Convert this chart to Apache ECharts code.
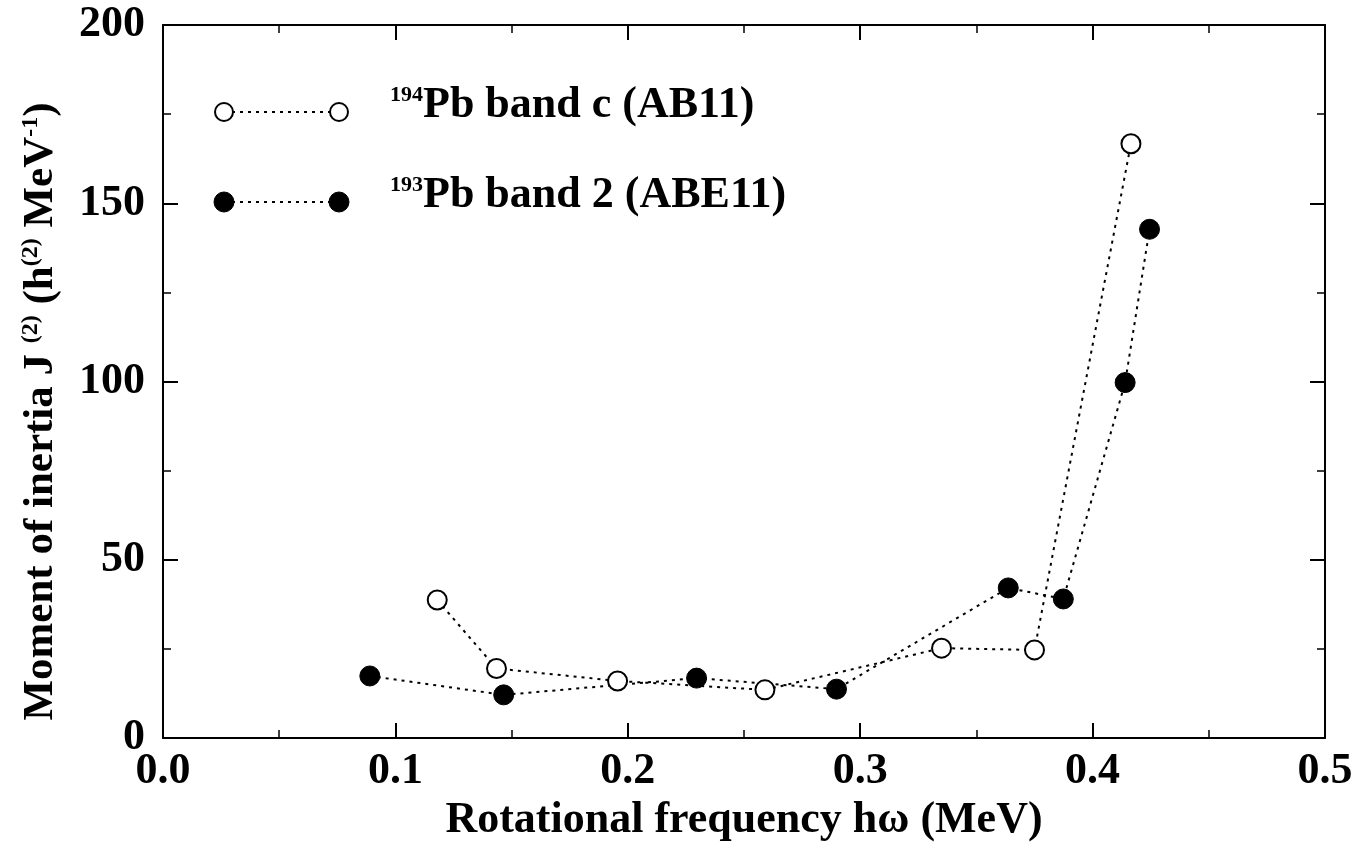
<!DOCTYPE html>
<html>
<head>
<meta charset="utf-8">
<script src="https://cdn.jsdelivr.net/npm/echarts@6/dist/echarts.min.js"></script>
<style>
  html, body { margin: 0; padding: 0; background: #fff; }
  #chart { width: 1363px; height: 851px; }
</style>
</head>
<body>
<div id="chart"></div>
<script>
// 194Pb band c (AB11), open circles
var bandCFreq = [0.118, 0.1435, 0.1956, 0.259, 0.335, 0.375, 0.4165];
var bandCJ2 = [38.7, 19.5, 16.0, 13.5, 25.2, 24.7, 166.7];
// 193Pb band 2 (ABE11), filled circles
var band2Freq = [0.089, 0.1466, 0.2296, 0.2898, 0.3637, 0.3874, 0.414, 0.4245];
var band2J2 = [17.4, 12.1, 16.8, 13.7, 42.1, 39.0, 99.7, 142.7];

var xTicks = [0.0, 0.1, 0.2, 0.3, 0.4, 0.5];
var yTicks = [0, 50, 100, 150, 200];

function pairs(xs, ys) {
    var out = [];
    for (var i = 0; i < xs.length; i++) {
        out.push([xs[i], ys[i]]);
    }
    return out;
}

var font = 'Liberation Serif';
var sup = { fontFamily: font, fontWeight: 'bold', fontSize: 24, padding: [0, 0, 20, 0], color: '#000', fill: '#000' };
var supLeg = { fontFamily: font, fontWeight: 'bold', fontSize: 22, padding: [0, 0, 22, 0], color: '#000', fill: '#000' };
var big = { fontFamily: font, fontWeight: 'bold', fontSize: 44, color: '#000', fill: '#000' };

var chart = echarts.init(document.getElementById('chart'));

// every axis: black frame line, inward ticks, minor tick halfway
function axisBase(show) {
    return {
        type: 'value',
        axisLine: { show: true, onZero: false, lineStyle: { color: '#000', width: 2 } },
        axisTick: { show: true, inside: true, length: 15, lineStyle: { color: '#000', width: 2 } },
        minorTick: { show: true, splitNumber: 2, length: 8, lineStyle: { color: '#000', width: 1.5 } },
        splitLine: { show: false },
        axisLabel: { show: show }
    };
}

var xMain = axisBase(true);
xMain.min = xTicks[0];
xMain.max = xTicks[xTicks.length - 1];
xMain.interval = 0.1;
xMain.position = 'bottom';
xMain.axisLabel = {
    show: true, margin: 12, color: '#000', fontFamily: font, fontWeight: 'bold', fontSize: 44,
    formatter: function (v) { return v.toFixed(1); }
};
xMain.name = 'Rotational frequency hω (MeV)';
xMain.nameLocation = 'middle';
xMain.nameGap = 53;
xMain.nameTextStyle = { color: '#000', fontFamily: font, fontWeight: 'bold', fontSize: 44 };

var xTop = axisBase(false);
xTop.min = xTicks[0];
xTop.max = xTicks[xTicks.length - 1];
xTop.interval = 0.1;
xTop.position = 'top';

var yMain = axisBase(true);
yMain.min = yTicks[0];
yMain.max = yTicks[yTicks.length - 1];
yMain.interval = 50;
yMain.position = 'left';
yMain.axisLabel = {
    show: true, margin: 18, color: '#000', fontFamily: font, fontWeight: 'bold', fontSize: 44
};
yMain.name = 'Moment of inertia J {s|(2)} (h{s|(2)} MeV{s|-1})';
yMain.nameLocation = 'middle';
yMain.nameGap = 100;
yMain.nameTextStyle = {
    color: '#000', fontFamily: font, fontWeight: 'bold', fontSize: 43,
    padding: [0, 60, 0, 0],
    rich: { s: sup }
};

var yRight = axisBase(false);
yRight.min = yTicks[0];
yRight.max = yTicks[yTicks.length - 1];
yRight.interval = 50;
yRight.position = 'right';

var lineStyle = { color: '#000', width: 2, type: [3, 5] };

var option = {
    animation: false,
    backgroundColor: '#fff',
    grid: { left: 163, right: 38, top: 25, bottom: 113, containLabel: false },
    xAxis: [xMain, xTop],
    yAxis: [yMain, yRight],
    series: [
        {
            name: '194Pb band c (AB11)',
            type: 'line',
            data: pairs(bandCFreq, bandCJ2),
            symbol: 'circle',
            symbolSize: 19,
            itemStyle: { color: '#fff', borderColor: '#000', borderWidth: 2 },
            lineStyle: lineStyle,
            z: 3
        },
        {
            name: '193Pb band 2 (ABE11)',
            type: 'line',
            data: pairs(band2Freq, band2J2),
            symbol: 'circle',
            symbolSize: 20,
            itemStyle: { color: '#000', borderColor: '#000', borderWidth: 1 },
            lineStyle: lineStyle,
            z: 2
        }
    ],
    graphic: [
        { type: 'line', shape: { x1: 224, y1: 112, x2: 339, y2: 112 }, style: { stroke: '#000', lineWidth: 2, lineDash: [3, 5] } },
        { type: 'circle', shape: { cx: 224, cy: 112, r: 9 }, style: { fill: '#fff', stroke: '#000', lineWidth: 2 } },
        { type: 'circle', shape: { cx: 339, cy: 112, r: 9 }, style: { fill: '#fff', stroke: '#000', lineWidth: 2 } },
        { type: 'line', shape: { x1: 224, y1: 202, x2: 339, y2: 202 }, style: { stroke: '#000', lineWidth: 2, lineDash: [3, 5] } },
        { type: 'circle', shape: { cx: 224, cy: 202, r: 10 }, style: { fill: '#000', stroke: '#000', lineWidth: 1 } },
        { type: 'circle', shape: { cx: 339, cy: 202, r: 10 }, style: { fill: '#000', stroke: '#000', lineWidth: 1 } },
        {
            type: 'text', x: 390, y: 106,
            style: {
                text: '{s|194}{m|Pb band c (AB11)}',
                verticalAlign: 'middle',
                rich: { s: supLeg, m: big }
            }
        },
        {
            type: 'text', x: 390, y: 196,
            style: {
                text: '{s|193}{m|Pb band 2 (ABE11)}',
                verticalAlign: 'middle',
                rich: { s: supLeg, m: big }
            }
        }
    ]
};

chart.setOption(option);
</script>
</body>
</html>
